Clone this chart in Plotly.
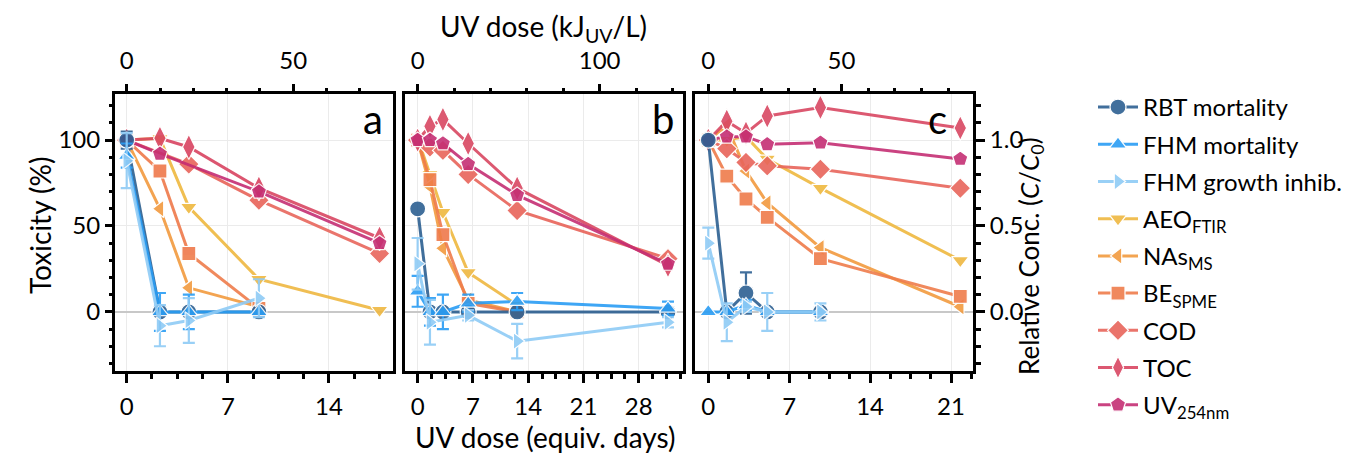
import plotly.graph_objects as go

# ---------------- data ----------------
# x positions in equivalent days
A_X = [0, 2.3, 4.3, 9.15, 17.5]
B_X = [0, 1.56, 3.2, 6.4, 12.6, 31.7]
C_X = [0, 1.6, 3.26, 5.1, 9.7, 21.8]

# toxicity (%) series: x, y, error
rbt_a_x = [0, 2.3, 4.3, 9.15]; rbt_a = [100, 0, 0, 0]; rbt_a_e = [5, 0, 0, 0]
fhm_a_x = [0, 2.3, 4.3, 9.15]; fhm_a = [91, 0, 0, 0]; fhm_a_e = [7, 11, 10, 0]
fgi_a_x = [0, 2.3, 4.3, 9.15]; fgi_a = [88, -8, -5, 8]; fgi_a_e = [16, 12, 13, 11]

rbt_b_x = B_X; rbt_b = [60, 0, 0, 0, 0, 0]; rbt_b_e = [0, 0, 0, 0, 0, 0]
fhm_b_x = B_X; fhm_b = [12, 0, 0, 5, 6, 2]; fhm_b_e = [9, 8, 10, 5, 5, 4]
fgi_b_x = [0, 1.56, 6.4, 12.6, 31.7]; fgi_b = [28, -6, -2, -17, -6]; fgi_b_e = [15, 13, 3, 10, 3]

rbt_c_x = [0, 1.6, 3.26, 5.1, 9.7]; rbt_c = [100, 0, 11, 0, 0]; rbt_c_e = [0, 0, 12, 0, 0]
fhm_c_x = [0, 1.6, 3.26, 5.1, 9.7]; fhm_c = [0, 0, 4, 0, 0]; fhm_c_e = [0, 0, 3, 0, 0]
fgi_c_x = [0, 1.6, 3.26, 5.1, 9.7]; fgi_c = [40, -6, 3, 0, 0]; fgi_c_e = [9, 11, 3, 11, 5]

# chemistry series: relative concentration C/C0
aeo_a_x = A_X; aeo_a = [1.00, 1.01, 0.61, 0.19, 0.01]
nas_a_x = [0, 2.3, 4.3, 9.15]; nas_a = [1.00, 0.60, 0.14, 0.03]
be_a_x = [0, 2.3, 4.3, 9.15]; be_a = [1.00, 0.82, 0.34, 0.02]
cod_a_x = [0, 4.3, 9.15, 17.5]; cod_a = [1.00, 0.86, 0.65, 0.34]
toc_a_x = A_X; toc_a = [1.00, 1.01, 0.96, 0.72, 0.43]
uv_a_x = [0, 2.3, 9.15, 17.5]; uv_a = [1.00, 0.92, 0.70, 0.40]

aeo_b_x = [0, 1.56, 3.2, 6.4, 12.6]; aeo_b = [1.01, 0.80, 0.58, 0.23, 0.04]
nas_b_x = [0, 1.56, 3.2, 6.4, 12.6]; nas_b = [1.00, 0.73, 0.37, 0.07, 0.00]
be_b_x = [0, 1.56, 3.2, 6.4, 12.6]; be_b = [1.00, 0.77, 0.45, 0.05, 0.00]
cod_b_x = B_X; cod_b = [1.00, 0.96, 0.94, 0.80, 0.59, 0.31]
toc_b_x = B_X; toc_b = [1.00, 1.08, 1.12, 0.98, 0.72, 0.27]
uv_b_x = B_X; uv_b = [1.00, 1.00, 0.98, 0.86, 0.68, 0.28]

aeo_c_x = C_X; aeo_c = [1.00, 1.00, 1.02, 0.89, 0.72, 0.30]
nas_c_x = C_X; nas_c = [1.00, 1.085, 0.82, 0.634, 0.374, 0.03]
be_c_x = C_X; be_c = [1.00, 0.79, 0.657, 0.55, 0.31, 0.09]
cod_c_x = C_X; cod_c = [1.00, 0.95, 0.87, 0.85, 0.83, 0.72]
toc_c_x = C_X; toc_c = [1.00, 1.11, 1.04, 1.14, 1.19, 1.07]
uv_c_x = C_X; uv_c = [1.00, 1.02, 1.02, 0.975, 0.985, 0.89]

names = ["RBT mortality", "FHM mortality", "FHM growth inhib.",
         "AEO<sub>FTIR</sub>", "NAs<sub>MS</sub>", "BE<sub>SPME</sub>",
         "COD", "TOC", "UV<sub>254nm</sub>"]
colors = ["#2d6092", "#2a9df4", "#8fcbf6", "#efb841", "#f29b3f",
          "#ef7d4c", "#e8665c", "#d94762", "#c52f74"]
symbols = ["circle", "triangle-up", "triangle-right", "triangle-down",
           "triangle-left", "square", "diamond", "diamond-tall", "pentagon"]
msizes = [16, 15, 15, 15, 15, 14, 16, 18, 16]

x_ranges = [[-0.81, 18.43], [-1.6, 33.6], [-1.15, 22.9]]
KJ_PER_DAY = 4.34
top_dtick = [50, 100, 50]
top_minor = [10, 20, 10]
Y_CHEM_RANGE = [-0.341, 1.271]
Y_TOX_RANGE = [-34.1, 127.1]

tox = [
    [(rbt_a_x, rbt_a, rbt_a_e), (fhm_a_x, fhm_a, fhm_a_e), (fgi_a_x, fgi_a, fgi_a_e)],
    [(rbt_b_x, rbt_b, rbt_b_e), (fhm_b_x, fhm_b, fhm_b_e), (fgi_b_x, fgi_b, fgi_b_e)],
    [(rbt_c_x, rbt_c, rbt_c_e), (fhm_c_x, fhm_c, fhm_c_e), (fgi_c_x, fgi_c, fgi_c_e)],
]
chem = [
    [(aeo_a_x, aeo_a), (nas_a_x, nas_a), (be_a_x, be_a), (cod_a_x, cod_a), (toc_a_x, toc_a), (uv_a_x, uv_a)],
    [(aeo_b_x, aeo_b), (nas_b_x, nas_b), (be_b_x, be_b), (cod_b_x, cod_b), (toc_b_x, toc_b), (uv_b_x, uv_b)],
    [(aeo_c_x, aeo_c), (nas_c_x, nas_c), (be_c_x, be_c), (cod_c_x, cod_c), (toc_c_x, toc_c), (uv_c_x, uv_c)],
]

# ---------------- figure ----------------
W, H = 1352, 453
FONT = "Lato"
fig = go.Figure()

def sfx(n):
    return "" if n == 1 else str(n)

for p in range(3):
    bx = "x" + sfx(p + 1)
    tx = "x" + sfx(p + 4)
    by = "y" + sfx(p + 1)
    oy = "y" + sfx(p + 4)
    for k, (xs, ys) in enumerate(chem[p]):
        i = k + 3
        fig.add_trace(go.Scatter(
            x=xs, y=ys, xaxis=bx, yaxis=by, mode="lines+markers",
            name=names[i], legendgroup=names[i], legendrank=i + 1,
            showlegend=(p == 0), opacity=0.9,
            line=dict(color=colors[i], width=3),
            marker=dict(symbol=symbols[i], size=msizes[i], color=colors[i],
                        line=dict(color="white", width=1.2))))
    for i, (xs, ys, es) in enumerate(tox[p]):
        fig.add_trace(go.Scatter(
            x=xs, y=ys, xaxis=bx, yaxis=oy, mode="lines+markers",
            name=names[i], legendgroup=names[i], legendrank=i + 1,
            showlegend=(p == 0), opacity=0.9,
            error_y=dict(type="data", array=es, color=colors[i], thickness=2.2, width=6),
            line=dict(color=colors[i], width=3),
            marker=dict(symbol=symbols[i], size=msizes[i], color=colors[i],
                        line=dict(color="white", width=1.2))))
    fig.add_trace(go.Scatter(x=[0], y=[0], xaxis=tx, yaxis=by, mode="markers",
                             marker=dict(opacity=0), showlegend=False, hoverinfo="skip"))

panel_px = [(115, 393), (405, 683), (695, 973)]
top_px, bot_px = 93.5, 370.5
ydom = [1 - bot_px / H, 1 - top_px / H]

TICK_SIZE = 24
tickfont = dict(family=FONT, size=TICK_SIZE, color="black")
layout = dict(
    width=W, height=H, margin=dict(l=0, r=0, t=0, b=0),
    paper_bgcolor="white", plot_bgcolor="white",
    font=dict(family=FONT, size=TICK_SIZE, color="black"),
    legend=dict(x=1093 / W, y=1 - 85 / H, xanchor="left", yanchor="top",
                font=dict(family=FONT, size=24), tracegroupgap=3,
                itemwidth=40, bgcolor="rgba(0,0,0,0)"),
)

for p in range(3):
    l, r = panel_px[p]
    xdom = [l / W, r / W]
    n_b, n_t = p + 1, p + 4
    layout["xaxis" + sfx(n_b)] = dict(
        domain=xdom, anchor="y" + sfx(n_b), range=x_ranges[p],
        tick0=0, dtick=7, ticks="outside", ticklen=9, tickwidth=2.5, tickcolor="black",
        ticklabelstandoff=4,
        minor=dict(dtick=1.75, tick0=0, ticks="outside", ticklen=5, tickwidth=2.5, tickcolor="black", showgrid=False),
        showgrid=True, gridcolor="#ebebeb", gridwidth=1.3, zeroline=False,
        showline=True, linewidth=3, linecolor="black", mirror=True,
        tickfont=tickfont)
    layout["xaxis" + sfx(n_t)] = dict(
        overlaying="x" + sfx(n_b), side="top", anchor="y" + sfx(n_b),
        range=[v * KJ_PER_DAY for v in x_ranges[p]],
        tick0=0, dtick=top_dtick[p], ticks="outside", ticklen=9, tickwidth=2.5, tickcolor="black",
        ticklabelstandoff=5,
        minor=dict(dtick=top_minor[p], tick0=0, ticks="outside", ticklen=5, tickwidth=2.5, tickcolor="black", showgrid=False),
        showgrid=False, zeroline=False, showline=False, tickfont=tickfont)
    show_right = (p == 2)
    layout["yaxis" + sfx(n_b)] = dict(
        domain=ydom, anchor="x" + sfx(n_b), range=Y_CHEM_RANGE, side="right",
        tick0=0, dtick=0.5, tickformat=".1f",
        ticks="outside" if show_right else "", ticklen=9, tickwidth=2.5, tickcolor="black",
        showticklabels=show_right,
        minor=dict(dtick=0.1, tick0=0, ticks="outside" if show_right else "", ticklen=5,
                   tickwidth=2.5, tickcolor="black", showgrid=False),
        showgrid=True, gridcolor="#ebebeb", gridwidth=1.3,
        zeroline=True, zerolinecolor="#c8c8c8", zerolinewidth=1.5,
        showline=True, linewidth=3, linecolor="black", mirror=True, tickfont=tickfont)
    show_left = (p == 0)
    layout["yaxis" + sfx(n_t)] = dict(
        overlaying="y" + sfx(n_b), side="left", anchor="x" + sfx(n_b), range=Y_TOX_RANGE,
        tick0=0, dtick=50,
        ticks="outside" if show_left else "", ticklen=9, tickwidth=2.5, tickcolor="black",
        showticklabels=show_left,
        minor=dict(dtick=10, tick0=0, ticks="outside" if show_left else "", ticklen=5,
                   tickwidth=2.5, tickcolor="black", showgrid=False),
        showgrid=False, zeroline=False, showline=False, tickfont=tickfont)

annots = [
    dict(text="UV dose (kJ<sub>UV</sub>/L)", x=543 / W, y=1 - 28 / H, size=28, angle=0),
    dict(text="UV dose (equiv. days)", x=545 / W, y=1 - 437 / H, size=28, angle=0),
    dict(text="Toxicity (%)", x=40 / W, y=1 - 226 / H, size=28, angle=-90),
    dict(text="Relative Conc. (<i>C</i>/<i>C</i><sub>0</sub>)", x=1030 / W, y=1 - 256 / H, size=26, angle=-90),
    dict(text="a", x=373 / W, y=1 - 119 / H, size=40, angle=0),
    dict(text="b", x=663 / W, y=1 - 119 / H, size=40, angle=0),
    dict(text="c", x=937 / W, y=1 - 119 / H, size=40, angle=0),
]
layout["annotations"] = [
    dict(text=a["text"], x=a["x"], y=a["y"], xref="paper", yref="paper",
         xanchor="center", yanchor="middle", showarrow=False, textangle=a["angle"],
         font=dict(family=FONT, size=a["size"], color="black"))
    for a in annots
]

fig.update_layout(**layout)
fig.write_html("out.html")
